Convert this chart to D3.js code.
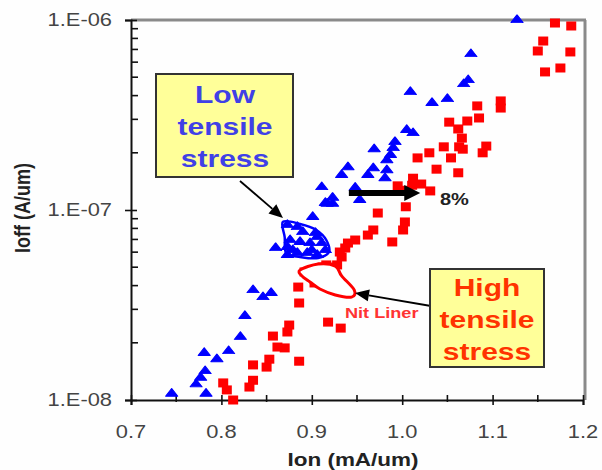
<!DOCTYPE html>
<html>
<head>
<meta charset="utf-8">
<script src="https://cdn.jsdelivr.net/npm/d3@7"></script>
<style>
  body { margin: 0; background: #fff; }
  text { font-family: "Liberation Sans", Arial, sans-serif; }
</style>
</head>
<body>
<svg id="chart" width="602" height="470"></svg>
<script>
// axis ticks
const ionTicks = [0.7, 0.8, 0.9, 1.0, 1.1, 1.2];
const ionMinor = [0.75, 0.85, 0.95, 1.05, 1.15];
const ioffTicks = [1e-8, 1e-7, 1e-6];
const ioffLabels = ["1.E-08", "1.E-07", "1.E-06"];
const ioffMinor = [2e-8, 3e-8, 4e-8, 5e-8, 6e-8, 7e-8, 8e-8, 9e-8,
                   2e-7, 3e-7, 4e-7, 5e-7, 6e-7, 7e-7, 8e-7, 9e-7];

// low tensile stress (blue triangles)
const blueIon = [0.745, 0.783, 0.772, 0.777, 0.782, 0.781, 0.795, 0.808, 0.821, 0.826,
  0.835, 0.846, 0.855, 0.860, 0.901, 0.917, 0.923, 0.873, 0.884, 0.890,
  0.904, 0.911, 0.915, 0.906, 0.895, 0.879, 0.873, 0.876, 0.887, 0.898,
  0.906, 0.884, 0.873, 0.900, 1.009, 1.033, 1.050, 1.005, 1.012, 0.992,
  0.990, 0.987, 0.983, 0.969, 0.968, 0.962, 0.983, 0.981, 0.940, 0.933,
  0.911, 0.948, 0.953, 0.923, 0.915, 1.127, 1.076, 1.073, 1.068];
const blueIoff = [1.08e-8, 1.08e-8, 1.21e-8, 1.31e-8, 1.42e-8, 1.77e-8, 1.64e-8, 1.81e-8, 2.15e-8, 2.77e-8,
  3.79e-8, 3.48e-8, 3.66e-8, 6.31e-8, 9.2e-8, 1.08e-7, 1.08e-7, 8.34e-8, 8.14e-8, 7.66e-8,
  7.57e-8, 6.7e-8, 6.15e-8, 5.8e-8, 5.94e-8, 6.15e-8, 6.39e-8, 6.95e-8, 6.79e-8, 6.7e-8,
  7.21e-8, 5.94e-8, 5.8e-8, 6.15e-8, 4.18e-7, 3.66e-7, 3.84e-7, 2.64e-7, 2.54e-7, 2.28e-7,
  2.12e-7, 1.95e-7, 1.83e-7, 2.09e-7, 1.66e-7, 1.53e-7, 1.62e-7, 1.47e-7, 1.68e-7, 1.53e-7,
  1.32e-7, 1.31e-7, 1.13e-7, 1.16e-7, 1.09e-7, 1.0e-6, 6.62e-7, 4.83e-7, 4.6e-7];

// high tensile stress (red squares)
const redIon = [1.169, 1.187, 1.156, 1.150, 1.186, 1.175, 1.158, 1.109, 1.109, 1.083,
  1.085, 1.072, 1.052, 1.062, 1.066, 1.063, 1.067, 1.046, 1.093, 1.089,
  1.054, 1.030, 1.017, 1.038, 1.062, 1.012, 1.021, 1.031, 0.995, 1.005,
  1.011, 1.004, 0.973, 1.003, 1.001, 0.989, 0.968, 0.962, 0.948, 0.940,
  0.931, 0.923, 0.912, 0.916, 0.928, 0.892, 0.900, 0.885, 0.886, 0.918,
  0.932, 0.875, 0.873, 0.857, 0.862, 0.870, 0.886, 0.853, 0.850, 0.835,
  0.835, 0.831, 0.802, 0.806, 0.813, 0.933, 0.937, 0.903];
const redIoff = [9.64e-7, 9.3e-7, 7.75e-7, 6.87e-7, 6.79e-7, 5.59e-7, 5.33e-7, 3.75e-7, 3.44e-7, 3.53e-7,
  3.05e-7, 2.94e-7, 2.9e-7, 2.67e-7, 2.39e-7, 2.15e-7, 2.09e-7, 2.15e-7, 2.17e-7, 2.0e-7,
  1.88e-7, 2.0e-7, 1.88e-7, 1.64e-7, 1.57e-7, 1.47e-7, 1.37e-7, 1.26e-7, 1.34e-7, 1.27e-7,
  1.35e-7, 1.04e-7, 9.64e-8, 8.65e-8, 7.85e-8, 6.79e-8, 7.85e-8, 7.38e-8, 6.95e-8, 6.7e-8,
  6.01e-8, 5.01e-8, 5.01e-8, 5.14e-8, 5.14e-8, 4.72e-8, 4.44e-8, 3.93e-8, 3.24e-8, 2.57e-8,
  2.39e-8, 2.48e-8, 2.28e-8, 2.17e-8, 1.9e-8, 1.88e-8, 1.6e-8, 1.64e-8, 1.49e-8, 1.53e-8,
  1.27e-8, 1.17e-8, 1.23e-8, 1.13e-8, 1.0e-8, 5.66e-8, 6.31e-8, 4.13e-8];

// hand drawn loops round the clusters
const blueLoopIon = [0.868, 0.887, 0.905, 0.916, 0.919, 0.907, 0.887, 0.872, 0.870];
const blueLoopIoff = [8.65e-8, 8.44e-8, 7.85e-8, 6.95e-8, 6.01e-8, 5.59e-8, 5.66e-8, 5.9e-8, 7.2e-8];
const redLoopIon = [0.887, 0.907, 0.926, 0.933, 0.947, 0.944, 0.926, 0.909, 0.898, 0.889];
const redLoopIoff = [4.83e-8, 5.2e-8, 5.07e-8, 4.5e-8, 3.79e-8, 3.48e-8, 3.57e-8, 3.84e-8, 4.18e-8, 4.5e-8];

// 8% shift arrow
const shiftIon = [0.941, 1.020];
const shiftIoff = 1.23e-7;

const svg = d3.select("#chart");
const K = 1.25; // glyphs in the picture are wide

const x = d3.scaleLinear().domain([0.7, 1.2]).range([131, 583]);
const y = d3.scaleLog().domain([1e-8, 1e-6]).range([400, 20]);

function label(g, px, py, str, size, opts) {
  opts = opts || {};
  return g.append("text")
    .attr("transform", `translate(${px},${py}) scale(${opts.k || K},1)`)
    .attr("text-anchor", opts.anchor || "middle")
    .style("font-size", size + "px")
    .style("font-weight", opts.bold ? "bold" : "normal")
    .attr("fill", opts.fill || "#333")
    .text(str);
}

svg.append("rect").attr("width", 602).attr("height", 470).attr("fill", "#fefefe");

// frame: grey top and right
svg.append("line")
  .attr("x1", x(0.7)).attr("x2", x(1.2) + 3).attr("y1", y(1e-6)).attr("y2", y(1e-6))
  .attr("stroke", "#8a8a8a").attr("stroke-width", 3);
svg.append("line")
  .attr("x1", x(1.2) + 2).attr("x2", x(1.2) + 2).attr("y1", y(1e-6)).attr("y2", y(1e-8))
  .attr("stroke", "#8a8a8a").attr("stroke-width", 3);

// x axis
const gx = svg.append("g").attr("transform", `translate(0,${y(1e-8)})`)
  .call(d3.axisBottom(x).tickValues(ionTicks).tickSize(5).tickFormat(""));
gx.select(".domain").attr("stroke", "#111").attr("stroke-width", 2);
gx.selectAll(".tick line").attr("y1", -5).attr("y2", 5).attr("stroke", "#111").attr("stroke-width", 1.6);
gx.selectAll(".minor").data(ionMinor).enter().append("line")
  .attr("x1", d => x(d)).attr("x2", d => x(d)).attr("y1", -5).attr("y2", 2)
  .attr("stroke", "#111").attr("stroke-width", 1.6);

// y axis
const gy = svg.append("g").attr("transform", `translate(${x(0.7)},0)`)
  .call(d3.axisLeft(y).tickValues(ioffTicks).tickSize(6).tickFormat(""));
gy.select(".domain").attr("stroke", "#111").attr("stroke-width", 2);
gy.selectAll(".tick line").attr("x1", -6).attr("x2", 6).attr("stroke", "#111").attr("stroke-width", 1.6);
gy.selectAll(".minor").data(ioffMinor).enter().append("line")
  .attr("x1", 0).attr("x2", 7).attr("y1", d => y(d)).attr("y2", d => y(d))
  .attr("stroke", "#111").attr("stroke-width", 1.6);

// tick labels
ionTicks.forEach(v => label(svg, x(v), 438, v.toFixed(1), 17.5, {fill: "#444"}));
ioffTicks.forEach((v, i) => label(svg, x(0.7) - 19, y(v) + 6, ioffLabels[i], 17.5, {anchor: "end", fill: "#444"}));

// axis titles
label(svg, 353, 466, "Ion (mA/um)", 18, {bold: true, fill: "#222"});
svg.append("text")
  .attr("transform", "translate(30,208) rotate(-90) scale(1,1.25)")
  .attr("text-anchor", "middle")
  .style("font-size", "18px").style("font-weight", "bold")
  .attr("fill", "#222")
  .text("Ioff (A/um)");

// red squares
svg.append("g").selectAll("rect").data(d3.range(redIon.length)).enter().append("rect")
  .attr("x", i => x(redIon[i]) - 5).attr("y", i => y(redIoff[i]) - 4.5)
  .attr("width", 10).attr("height", 9).attr("fill", "#ff0000");

svg.append("path")
  .attr("d", d3.line().curve(d3.curveCardinalClosed)(redLoopIon.map((v, i) => [x(v), y(redLoopIoff[i])])))
  .attr("fill", "#fff").attr("stroke", "#ff0000").attr("stroke-width", 3);

// blue triangles
const tri = d3.symbol().type(d3.symbolTriangle).size(48);
svg.append("g").selectAll("path").data(d3.range(blueIon.length)).enter().append("path")
  .attr("d", tri)
  .attr("transform", i => `translate(${x(blueIon[i])},${y(blueIoff[i])}) scale(1.15,0.85)`)
  .attr("fill", "#0000ff").attr("stroke", "#0000ff").attr("stroke-width", 1).attr("stroke-linejoin", "round");

svg.append("path")
  .attr("d", d3.line().curve(d3.curveCatmullRomClosed)(blueLoopIon.map((v, i) => [x(v), y(blueLoopIoff[i])])))
  .attr("fill", "none").attr("stroke", "#0000ff").attr("stroke-width", 2.5);

// 8% arrow
const ay = y(shiftIoff);
svg.append("line")
  .attr("x1", x(shiftIon[0])).attr("x2", x(shiftIon[1]) - 12).attr("y1", ay).attr("y2", ay)
  .attr("stroke", "#000").attr("stroke-width", 6);
svg.append("path")
  .attr("d", `M${x(shiftIon[1]) - 16},${ay - 8}L${x(shiftIon[1])},${ay}L${x(shiftIon[1]) - 16},${ay + 8}Z`)
  .attr("fill", "#000");
label(svg, 440, 205, "8%", 16, {anchor: "start", bold: true, fill: "#222"});

// annotation arrows
function arrow(x1, y1, x2, y2) {
  const a = Math.atan2(y2 - y1, x2 - x1), L = 14, W = 6;
  const bx = x2 - L * Math.cos(a), by = y2 - L * Math.sin(a);
  svg.append("line").attr("x1", x1).attr("y1", y1).attr("x2", bx).attr("y2", by)
    .attr("stroke", "#000").attr("stroke-width", 1.8);
  svg.append("path")
    .attr("d", `M${x2},${y2}L${bx - W * Math.sin(a)},${by + W * Math.cos(a)}L${bx + W * Math.sin(a)},${by - W * Math.cos(a)}Z`)
    .attr("fill", "#000");
}
arrow(240, 181, 283, 218);
arrow(431, 306, 355, 293);

// call-out boxes
svg.append("rect").attr("x", 156).attr("y", 74).attr("width", 137).attr("height", 103)
  .attr("fill", "#ffff99").attr("stroke", "#333").attr("stroke-width", 2);
["Low", "tensile", "stress"].forEach((s, i) =>
  label(svg, 225, 103 + i * 32, s, 24, {bold: true, fill: "#4040e6"}));

svg.append("rect").attr("x", 430).attr("y", 269).attr("width", 114).attr("height", 98)
  .attr("fill", "#ffff99").attr("stroke", "#333").attr("stroke-width", 2);
["High", "tensile", "stress"].forEach((s, i) =>
  label(svg, 487, 296 + i * 32, s, 24, {bold: true, fill: "#ff3300"}));

label(svg, 345, 318, "Nit Liner", 14.5, {anchor: "start", bold: true, fill: "#ff3333"});
</script>
</body>
</html>
